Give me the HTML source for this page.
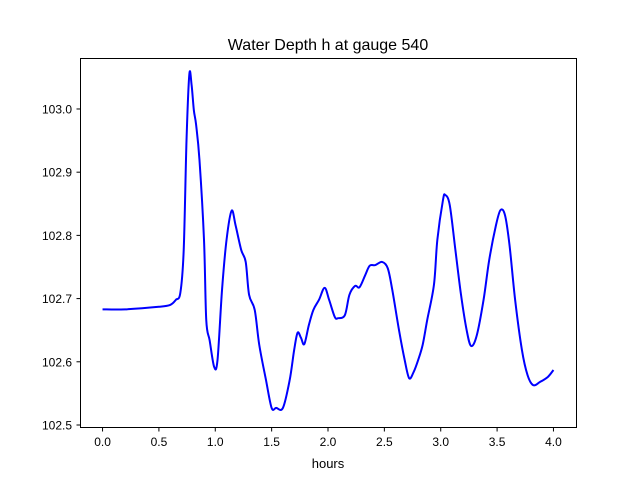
<!DOCTYPE html>
<html><head><meta charset="utf-8"><style>
html,body{margin:0;padding:0;background:#fff;}
svg{display:block;font-family:"Liberation Sans","DejaVu Sans",sans-serif;}
</style></head><body>
<svg id="chart" width="640" height="480">
<rect width="640" height="480" fill="#fff"/>
<text x="328" y="50" font-size="16" text-anchor="middle">Water Depth h at gauge 540</text>
<text x="328" y="468" font-size="13" text-anchor="middle">hours</text>
<g id="ticks"></g>
<path id="line" fill="none" stroke="#0000ff" stroke-width="2" stroke-linejoin="round"/>
<rect x="80.5" y="58.5" width="496" height="369" fill="none" stroke="#000" stroke-width="1"/>
</svg>
<script>
const hours=[0,0.2,0.5,0.6,0.65,0.69,0.72,0.745,0.77,0.79,0.81,0.83,0.86,0.9,0.92,0.95,0.99,1.02,1.06,1.1,1.145,1.18,1.23,1.27,1.3,1.35,1.39,1.45,1.5,1.54,1.6,1.66,1.7,1.73,1.76,1.79,1.83,1.87,1.92,1.97,2.01,2.06,2.09,2.15,2.19,2.24,2.28,2.33,2.37,2.42,2.48,2.53,2.57,2.63,2.68,2.72,2.76,2.8,2.84,2.88,2.94,2.97,3.02,3.04,3.08,3.13,3.18,3.23,3.27,3.32,3.38,3.43,3.49,3.53,3.57,3.61,3.66,3.72,3.77,3.82,3.88,3.95,4.0];
const depth=[102.683,102.683,102.687,102.690,102.698,102.709,102.777,102.951,103.055,103.038,102.998,102.975,102.919,102.793,102.666,102.634,102.592,102.603,102.714,102.793,102.839,102.816,102.777,102.758,102.706,102.682,102.627,102.571,102.527,102.527,102.527,102.571,102.619,102.646,102.638,102.628,102.658,102.682,102.698,102.717,102.698,102.671,102.669,102.674,102.706,102.720,102.718,102.737,102.752,102.753,102.758,102.748,102.714,102.650,102.603,102.574,102.584,102.603,102.627,102.666,102.722,102.793,102.856,102.864,102.848,102.777,102.706,102.650,102.625,102.642,102.698,102.761,102.816,102.840,102.832,102.785,102.698,102.619,102.579,102.563,102.568,102.576,102.587];
const xTicks=[0.0,0.5,1.0,1.5,2.0,2.5,3.0,3.5,4.0];
const yTicks=[102.5,102.6,102.7,102.8,102.9,103.0];
const NS="http://www.w3.org/2000/svg";
function xs(v){return 80+(v+0.2)/4.4*496;}
function ys(v){return 427.2-(v-102.4965)/(103.0813-102.4965)*369.6;}
const g=document.getElementById('ticks');
xTicks.forEach(t=>{
  const x=xs(t);
  const l=document.createElementNS(NS,'line');
  l.setAttribute('x1',x);l.setAttribute('x2',x);l.setAttribute('y1',427.5);l.setAttribute('y2',431.5);l.setAttribute('stroke','#000');
  
  
  g.appendChild(l);
  const tx=document.createElementNS(NS,'text');
  tx.setAttribute('x',x);tx.setAttribute('y',446);tx.setAttribute('font-size','12');tx.setAttribute('text-anchor','middle');
  tx.textContent=t.toFixed(1);
  
  
  g.appendChild(tx);
});
yTicks.forEach(t=>{
  const y=ys(t);
  const l=document.createElementNS(NS,'line');
  l.setAttribute('x1',76.5);l.setAttribute('x2',80.5);l.setAttribute('y1',y);l.setAttribute('y2',y);l.setAttribute('stroke','#000');
  
  
  g.appendChild(l);
  const tx=document.createElementNS(NS,'text');
  tx.setAttribute('x',72);tx.setAttribute('y',y+4.5);tx.setAttribute('font-size','12');tx.setAttribute('text-anchor','end');
  tx.textContent=t.toFixed(1);
  
  
  g.appendChild(tx);
});
const p=[hours.map(xs),depth.map(ys)];
let d='M'+p[0][0]+','+p[1][0];
for(let i=1;i<hours.length;i++){
  const x0=p[0][Math.max(i-2,0)],y0=p[1][Math.max(i-2,0)];
  const x1=p[0][i-1],y1=p[1][i-1],x2=p[0][i],y2=p[1][i];
  const j=Math.min(i+1,hours.length-1);const x3=p[0][j],y3=p[1][j];
  const c1x=x1+(x2-x0)/6,c1y=y1+(y2-y0)/6,c2x=x2-(x3-x1)/6,c2y=y2-(y3-y1)/6;
  d+=' C'+c1x+','+c1y+' '+c2x+','+c2y+' '+x2+','+y2;
}
document.getElementById('line').setAttribute('d',d);
</script>
</body></html>
